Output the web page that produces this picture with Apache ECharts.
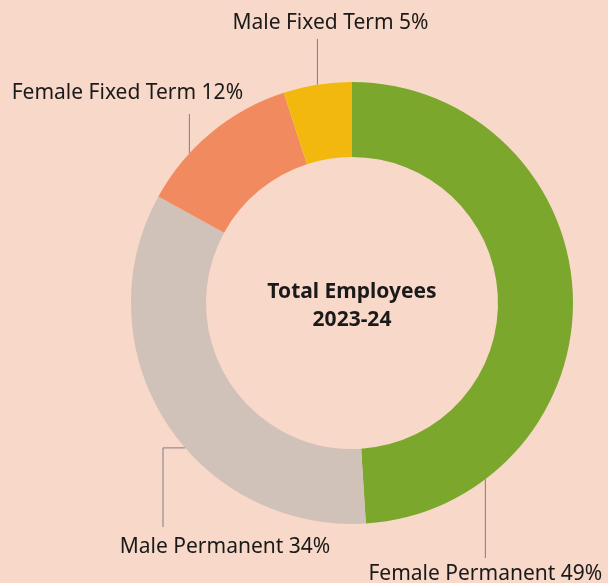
<!DOCTYPE html>
<html>
<head>
<meta charset="utf-8">
<script src="https://cdn.jsdelivr.net/npm/echarts@6/dist/echarts.min.js"></script>
<style>
  html, body { margin: 0; padding: 0; background: #f8d8c8; }
  #chart { width: 608px; height: 583px; }
</style>
</head>
<body>
<div id="chart"></div>
<script>
var categories = ['Female Permanent', 'Male Permanent', 'Female Fixed Term', 'Male Fixed Term'];
var shares = [49, 34, 12, 5];
var sliceColors = ['#7ba72d', '#d0c1b9', '#f18b5f', '#f2b80e'];

// donut geometry
var cx = 352, cy = 303, rIn = 146, rOut = 221;

// leader lines: where they leave the slice (fraction of its arc), where they end, where the text sits
var leaders = [
  { frac: 0.81, lineTo: 558, textDx: 0, textY: 574 },
  { frac: 0.43, elbowX: 163, lineTo: 527, textDx: 62, textY: 547 },
  { frac: 0.32, lineTo: 114, textDx: -62, textY: 93 },
  { frac: 0.5, lineTo: 39, textDx: 13, textY: 23 }
];

var total = shares.reduce(function (a, b) { return a + b; }, 0);

function anchorPoint(i) {
  var start = 0;
  for (var k = 0; k < i; k++) start += shares[k];
  var a = (start + shares[i] * leaders[i].frac) / total * 2 * Math.PI; // clockwise from 12 o'clock
  return [cx + rOut * Math.sin(a), cy - rOut * Math.cos(a)];
}

var chart = echarts.init(document.getElementById('chart'));

chart.setOption({
  backgroundColor: '#f8d8c8',
  animation: false,
  graphic: [{
    type: 'text',
    x: cx,
    y: cy + 3,
    style: {
      text: 'Total Employees\n2023-24',
      align: 'center',
      verticalAlign: 'middle',
      font: 'bold 21px "Noto Sans"',
      lineHeight: 28,
      fill: '#1a1a1a'
    }
  }],
  series: [{
    type: 'pie',
    center: [cx, cy],
    radius: [rIn, rOut],
    startAngle: 90,
    clockwise: true,
    avoidLabelOverlap: false,
    emphasis: { disabled: true },
    label: {
      show: true,
      position: 'outside',
      formatter: '{b} {c}%',
      fontFamily: 'Noto Sans',
      fontSize: 21,
      color: '#1a1a1a'
    },
    labelLine: {
      show: true,
      lineStyle: { color: '#7f7f7f', width: 1 }
    },
    labelLayout: function (p) {
      var i = p.dataIndex;
      var L = leaders[i];
      var a = anchorPoint(i);
      var pts;
      if (L.elbowX != null) {
        pts = [a, [L.elbowX, a[1]], [L.elbowX, L.lineTo]];
      } else {
        pts = [a, [a[0], L.lineTo]];
      }
      var end = pts[pts.length - 1];
      return {
        x: end[0] + L.textDx,
        y: L.textY,
        align: 'center',
        verticalAlign: 'middle',
        labelLinePoints: pts
      };
    },
    data: categories.map(function (name, i) {
      return { name: name, value: shares[i], itemStyle: { color: sliceColors[i] } };
    })
  }]
});
</script>
</body>
</html>
